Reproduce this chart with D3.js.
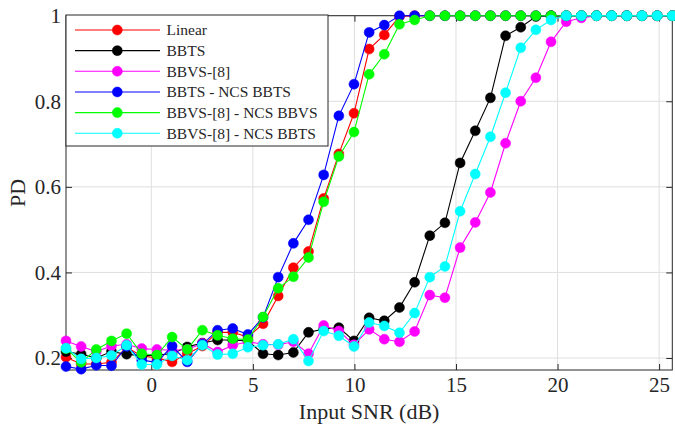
<!DOCTYPE html>
<html><head><meta charset="utf-8">
<script src="https://cdn.jsdelivr.net/npm/d3@7"></script>
<style>
html,body{margin:0;padding:0;background:#fff;}
svg{display:block;}
text{font-family:"Liberation Serif","Times New Roman",serif;fill:#262626;}
</style></head>
<body>
<svg id="chart" width="675" height="427"></svg>
<script>
const snr = [-4.2,-3.454,-2.708,-1.961,-1.215,-0.469,0.278,1.024,1.77,2.516,3.263,4.009,4.755,5.501,6.248,6.994,7.74,8.486,9.233,9.979,10.725,11.471,12.218,12.964,13.71,14.456,15.203,15.949,16.695,17.441,18.188,18.934,19.68,20.426,21.173,21.919,22.665,23.411,24.158,24.904,25.65];

const linear = [0.202,0.186,0.186,0.19,0.225,0.205,0.2,0.191,0.21,0.228,0.26,0.26,0.249,0.28,0.345,0.411,0.449,0.573,0.677,0.772,0.922,0.955,0.998,1,1,1,1,1,1,1,1,1,1,1,1,1,1,1,1,1,1];
const bbts = [0.215,0.209,0.2,0.215,0.209,0.205,0.207,0.21,0.226,0.235,0.242,0.242,0.24,0.21,0.207,0.213,0.26,0.268,0.271,0.24,0.294,0.287,0.318,0.377,0.486,0.516,0.656,0.731,0.808,0.953,0.973,0.998,1,1,1,1,1,1,1,1,1];
const bbvs = [0.24,0.227,0.215,0.228,0.232,0.222,0.22,0.218,0.22,0.234,0.214,0.23,0.238,0.232,0.231,0.238,0.21,0.276,0.263,0.231,0.267,0.244,0.238,0.262,0.347,0.341,0.458,0.517,0.587,0.702,0.8,0.855,0.939,0.986,0.995,1,1,1,1,1,1];
const bbtsNcs = [0.18,0.174,0.183,0.182,0.227,0.195,0.19,0.228,0.191,0.232,0.265,0.269,0.255,0.295,0.389,0.468,0.523,0.628,0.766,0.84,0.961,0.978,1,1,1,1,1,1,1,1,1,1,1,1,1,1,1,1,1,1,1];
const bbvsNcsBbvs = [0.222,0.19,0.22,0.24,0.257,0.21,0.207,0.249,0.22,0.265,0.253,0.245,0.243,0.296,0.363,0.39,0.435,0.565,0.671,0.728,0.863,0.91,0.98,0.99,1,1,1,1,1,1,1,1,1,1,1,1,1,1,1,1,1];
const bbvsNcsBbts = [0.223,0.198,0.2,0.206,0.23,0.185,0.185,0.205,0.195,0.23,0.208,0.21,0.225,0.23,0.232,0.244,0.193,0.263,0.252,0.227,0.283,0.275,0.259,0.305,0.389,0.414,0.543,0.63,0.717,0.82,0.925,0.967,0.99,1,1,1,1,1,1,1,1];

const seriesNames = ["Linear","BBTS","BBVS-[8]","BBTS - NCS BBTS","BBVS-[8] - NCS BBVS","BBVS-[8] - NCS BBTS"];
const seriesColors = ["#ff0000","#000000","#ff00ff","#0000ff","#00ff00","#00ffff"];
const seriesValues = [linear,bbts,bbvs,bbtsNcs,bbvsNcsBbvs,bbvsNcsBbts];

const xTicks = [0,5,10,15,20,25];
const yTicks = [0.2,0.4,0.6,0.8,1];
const xLabel = "Input SNR (dB)";
const yLabel = "PD";

const L = 66, R = 672.3, T = 15.7, B = 370;
const svg = d3.select("#chart");
const x = d3.scaleLinear().domain([-4.2, 25.65]).range([L, R]);
const y = d3.scaleLinear().domain([0.172, 1]).range([B, T]);

// grid
const g = svg.append("g");
g.selectAll(".vg").data(xTicks).join("line")
  .attr("x1", d=>x(d)).attr("x2", d=>x(d)).attr("y1", T).attr("y2", B)
  .attr("stroke", "#dfdfdf").attr("stroke-width", 1);
g.selectAll(".hg").data(yTicks).join("line")
  .attr("x1", L).attr("x2", R).attr("y1", d=>y(d)).attr("y2", d=>y(d))
  .attr("stroke", "#dfdfdf").attr("stroke-width", 1);

// axes
const axColor = "#262626";
const tickLen = 6;
const xAxisB = d3.axisBottom(x).tickValues(xTicks).tickSizeInner(-tickLen).tickSizeOuter(0).tickPadding(7).tickFormat(d3.format("d"));
const xAxisT = d3.axisTop(x).tickValues(xTicks).tickSizeInner(-tickLen).tickSizeOuter(0).tickFormat("");
const yAxisL = d3.axisLeft(y).tickValues(yTicks).tickSizeInner(-tickLen).tickSizeOuter(0).tickPadding(5).tickFormat(d=> d===1 ? "1" : d3.format(".1f")(d));
const yAxisR = d3.axisRight(y).tickValues(yTicks).tickSizeInner(-tickLen).tickSizeOuter(0).tickFormat("");

function styleAxis(sel){
  sel.select(".domain").remove();
  sel.selectAll("line").attr("stroke", axColor);
  sel.selectAll("text").attr("fill", axColor).style("font-size","21px").style("font-family","'Liberation Serif','Times New Roman',serif");
}
svg.append("g").attr("transform",`translate(0,${B})`).call(xAxisB).call(styleAxis);
svg.append("g").attr("transform",`translate(0,${T})`).call(xAxisT).call(styleAxis);
svg.append("g").attr("transform",`translate(${L},0)`).call(yAxisL).call(styleAxis);
svg.append("g").attr("transform",`translate(${R},0)`).call(yAxisR).call(styleAxis);

// frame
svg.append("rect").attr("x", L).attr("y", T).attr("width", R-L).attr("height", B-T)
  .attr("fill","none").attr("stroke", axColor).attr("stroke-width", 1);

// series
const line = d3.line().x((d,i)=>x(snr[i])).y(d=>y(d));
seriesValues.forEach((vals, si) => {
  const c = seriesColors[si];
  const sg = svg.append("g");
  sg.append("path").datum(vals).attr("d", line).attr("fill","none").attr("stroke", c).attr("stroke-width", 1.1);
  sg.selectAll("circle").data(vals).join("circle")
    .attr("cx", (d,i)=>x(snr[i])).attr("cy", d=>y(d)).attr("r", 5)
    .attr("fill", c).attr("stroke", c).attr("stroke-width", 0.5);
});

// labels
svg.append("text").attr("x", (L+R)/2).attr("y", 419).attr("text-anchor","middle")
  .style("font-size","22px").text(xLabel);
svg.append("text").attr("transform", `translate(25,${(T+B)/2}) rotate(-90)`).attr("text-anchor","middle")
  .style("font-size","22px").text(yLabel);

// legend
const lg = svg.append("g");
const lgX = 66, lgY = 15, lgW = 262, lgH = 131;
lg.append("rect").attr("x", lgX).attr("y", lgY).attr("width", lgW).attr("height", lgH)
  .attr("fill","#fff").attr("stroke", axColor).attr("stroke-width", 1);
seriesNames.forEach((name, i) => {
  const yy = 30 + i*20.65;
  lg.append("line").attr("x1", 75).attr("x2", 160).attr("y1", yy).attr("y2", yy)
    .attr("stroke", seriesColors[i]).attr("stroke-width", 1.1);
  lg.append("circle").attr("cx", 117.3).attr("cy", yy).attr("r", 5)
    .attr("fill", seriesColors[i]).attr("stroke", seriesColors[i]).attr("stroke-width", 0.5);
  lg.append("text").attr("x", 166.5).attr("y", yy).attr("dy","0.35em")
    .style("font-size","15.5px").text(name);
});
</script>
</body></html>
